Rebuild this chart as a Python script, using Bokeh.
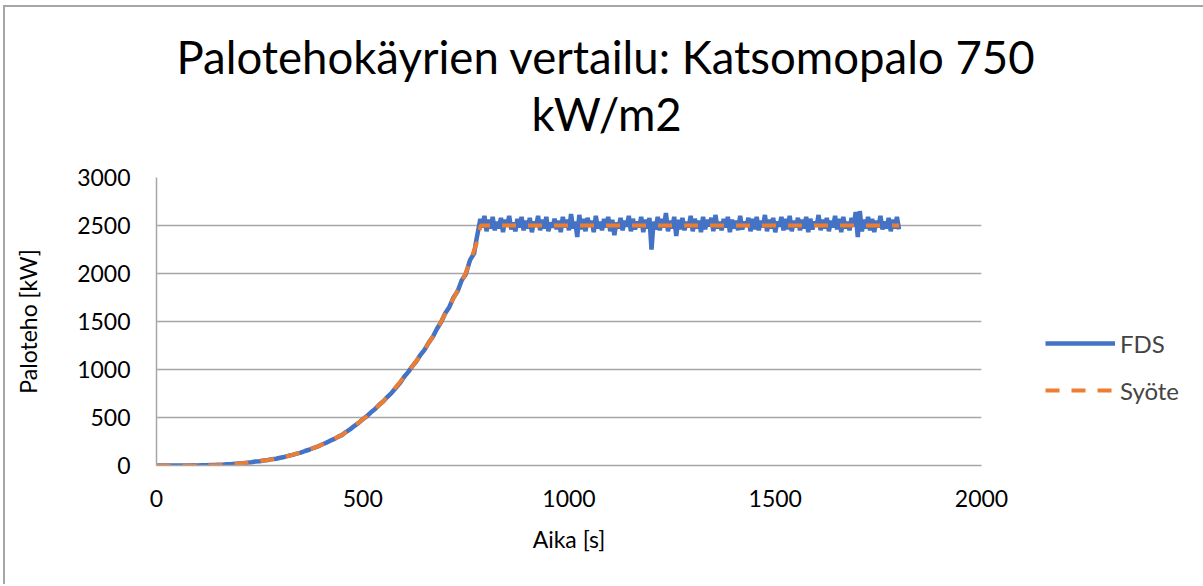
from bokeh.plotting import figure
from bokeh.models import Legend, LegendItem, Title, Range1d, FixedTicker
from bokeh.embed import file_html
from bokeh.resources import INLINE

# ---------------- data ----------------
title_line1 = "Palotehokäyrien vertailu: Katsomopalo 750"
title_line2 = "kW/m2"
x_label = "Aika [s]"
y_label = "Paloteho [kW]"
x_ticks = [0, 500, 1000, 1500, 2000]
y_ticks = [0, 500, 1000, 1500, 2000, 2500, 3000]

syote_time = [0, 25, 50, 75, 100, 125, 150, 175, 200, 225, 250, 275, 300, 325, 350,
              375, 400, 425, 450, 475, 500, 525, 550, 575, 600, 625, 650, 675, 700,
              725, 750, 775, 786, 1800]
syote_hrr = [0, 0, 0, 0, 1, 3, 6, 12, 20, 31, 45, 61, 80, 105, 135,
             172, 215, 265, 320, 395, 480, 570, 670, 790, 920, 1060, 1210, 1380, 1580,
             1780, 2010, 2300, 2500, 2500]

fds_growth_time = list(range(0, 780, 10))
fds_growth_hrr = [0, 0, 0, 0, 0, 0, 0, 1, 0, 2, 1, 3, 2, 4, 5, 7, 8, 12, 13, 18,
                  21, 23, 30, 34, 41, 44, 52, 57, 66, 71, 81, 89, 101, 111, 124, 134, 151, 164, 182, 196,
                  216, 234, 256, 274, 298, 319, 351, 379, 413, 444, 481, 514, 554, 589, 632, 669, 716, 757, 807, 858,
                  922, 973, 1033, 1086, 1153, 1207, 1280, 1341, 1425, 1495, 1586, 1652, 1750, 1815, 1930, 1995, 2140, 2210]

fds_plateau_time = list(range(775, 1805, 5))
fds_plateau_hrr = [
    2340, 2450, 2570, 2480, 2600, 2440, 2560, 2470, 2590, 2450,
    2540, 2470, 2580, 2430, 2560, 2490, 2600, 2460, 2530, 2440,
    2570, 2480, 2590, 2450, 2550, 2470, 2580, 2430, 2540, 2490,
    2600, 2450, 2560, 2470, 2590, 2440, 2530, 2480, 2570, 2460,
    2550, 2430, 2590, 2480, 2560, 2450, 2620, 2470, 2540, 2380,
    2610, 2460, 2570, 2440, 2580, 2490, 2550, 2430, 2600, 2470,
    2540, 2450, 2570, 2480, 2590, 2440, 2560, 2400, 2530, 2470,
    2580, 2450, 2550, 2490, 2600, 2440, 2570, 2460, 2540, 2480,
    2590, 2430, 2560, 2470, 2580, 2250, 2540, 2460, 2590, 2450,
    2570, 2480, 2630, 2440, 2550, 2470, 2590, 2390, 2560, 2460,
    2580, 2450, 2540, 2480, 2600, 2440, 2570, 2470, 2550, 2430,
    2590, 2460, 2560, 2490, 2580, 2440, 2610, 2470, 2540, 2450,
    2570, 2480, 2590, 2430, 2560, 2470, 2550, 2450, 2600, 2460,
    2540, 2490, 2580, 2440, 2570, 2460, 2590, 2450, 2550, 2480,
    2610, 2440, 2560, 2470, 2580, 2430, 2540, 2490, 2590, 2450,
    2570, 2460, 2600, 2440, 2550, 2480, 2580, 2450, 2560, 2470,
    2590, 2430, 2570, 2460, 2540, 2490, 2610, 2450, 2560, 2470,
    2580, 2440, 2550, 2480, 2600, 2460, 2570, 2430, 2590, 2470,
    2540, 2450, 2580, 2490, 2640, 2380, 2650, 2440, 2560, 2470,
    2590, 2450, 2570, 2430, 2550, 2480, 2600, 2460, 2540, 2470,
    2580, 2440, 2560, 2470, 2590, 2460,
]

fds_time = fds_growth_time + fds_plateau_time
fds_hrr = fds_growth_hrr + fds_plateau_hrr

# ---------------- layout (page pixel coordinates) ----------------
W, H = 1203, 586
OX, OY = 5, 7                      # canvas offset caused by the outer border
FL, FR, FT, FB = 156, 981, 177, 465
XMAX, YMAX = 2000, 3000
FONT = "Lato"
GRID = "#a6a6a6"
BLUE = "#4472C4"
ORANGE = "#ED7D31"

p = figure(frame_width=FR - FL, frame_height=FB - FT,
           output_backend="svg", toolbar_location=None,
           x_range=Range1d(0, XMAX), y_range=Range1d(0, YMAX),
           min_border_left=FL - OX, min_border_right=W - FR,
           min_border_top=FT - OY, min_border_bottom=H - FB - 2)
p.outline_line_color = None
p.background_fill_color = "white"
p.border_fill_color = "white"
p.styles = {"border-left": "2px solid #a6a6a6", "border-top": "2px solid #a6a6a6",
            "margin-left": "3px", "margin-top": "5px"}

r_fds = p.line(fds_time, fds_hrr, line_color=BLUE, line_width=4.5)
r_syo = p.line(syote_time, syote_hrr, line_color=ORANGE, line_width=4, line_dash="14 12")

for ax, ticks in ((p.xaxis[0], x_ticks), (p.yaxis[0], y_ticks)):
    ax.ticker = FixedTicker(ticks=ticks)
    ax.major_tick_line_color = None
    ax.minor_tick_line_color = None
    ax.axis_line_color = GRID
    ax.axis_line_width = 1.5
    ax.major_label_text_font = FONT
    ax.major_label_text_font_size = "23px"
    ax.major_label_text_color = "black"
    ax.axis_label_text_font = FONT
    ax.axis_label_text_font_size = "23px"
    ax.axis_label_text_font_style = "normal"
    ax.axis_label_text_color = "black"

p.xaxis.axis_label = x_label
p.yaxis.axis_label = y_label
p.xaxis.major_label_standoff = 18
p.yaxis.major_label_standoff = 20
p.xaxis.axis_label_standoff = 15
p.yaxis.axis_label_standoff = 32

p.xgrid.grid_line_color = None
p.ygrid.grid_line_color = GRID
p.ygrid.grid_line_width = 1.5
p.ygrid.ticker = FixedTicker(ticks=y_ticks)

legend = Legend(items=[LegendItem(label="FDS", renderers=[r_fds]),
                       LegendItem(label="Syöte", renderers=[r_syo])],
                location=(1045 - FR, FB - 405), orientation="vertical",
                padding=0, margin=0, spacing=17, glyph_width=70, glyph_height=30,
                label_height=30, label_standoff=5,
                label_text_font=FONT, label_text_font_size="24px",
                background_fill_alpha=0, border_line_color=None)
p.add_layout(legend, "right")

# stacking above the frame: spacer (closest), second title line, first title line (p.title)
spacer = Title(text="\u00a0", text_font_size="1px", text_color="white")
spacer.standoff = 34
p.add_layout(spacer, "above")

t2 = Title(text=title_line2, align="left", offset=531 - FL,
           text_font=FONT, text_font_size="45.5px", text_font_style="normal",
           text_color="black")
t2.standoff = 0
p.add_layout(t2, "above")

p.title.text = title_line1
p.title.align = "left"
p.title.offset = 176 - FL
p.title.text_font = FONT
p.title.text_font_size = "45.5px"
p.title.text_font_style = "normal"
p.title.text_color = "black"
p.title.standoff = 0

open("out.html", "w").write(file_html(p, INLINE))
